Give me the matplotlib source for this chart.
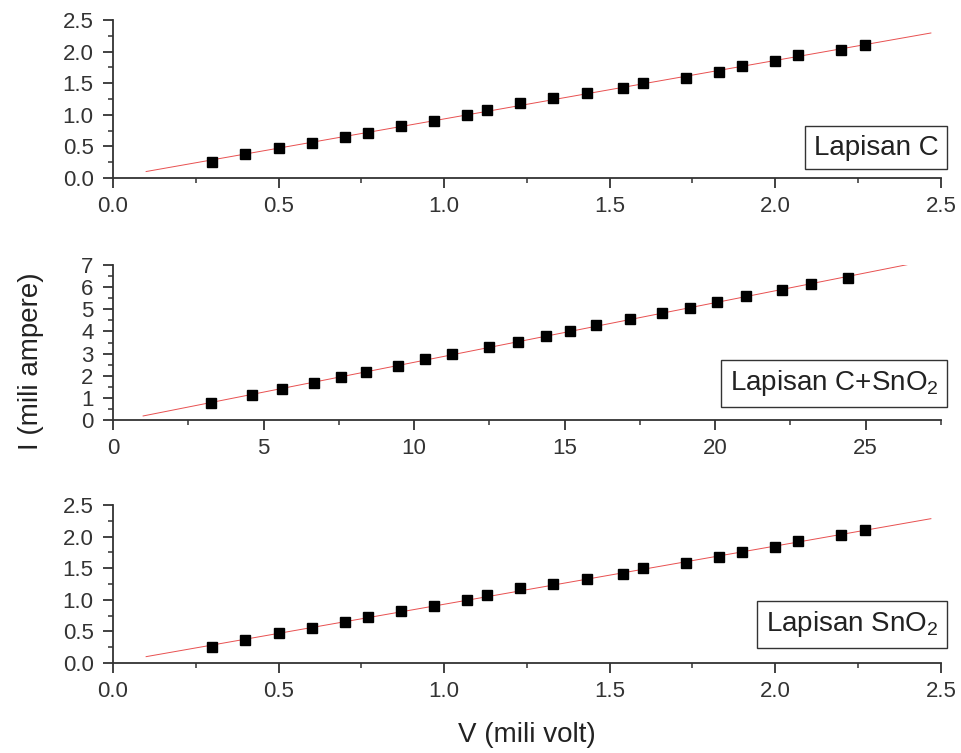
import numpy as np
import matplotlib.pyplot as plt
from matplotlib.ticker import MultipleLocator

plt.rcParams['font.family'] = ['Liberation Sans', 'DejaVu Sans']
plt.rcParams['mathtext.fontset'] = 'custom'
plt.rcParams['mathtext.rm'] = 'Liberation Sans'

# Lapisan C
v_c = [0.30, 0.40, 0.50, 0.60, 0.70, 0.77, 0.87, 0.97, 1.07, 1.13, 1.23, 1.33, 1.43,
       1.54, 1.60, 1.73, 1.83, 1.90, 2.00, 2.07, 2.20, 2.27]
i_c = [0.26, 0.38, 0.48, 0.56, 0.65, 0.72, 0.82, 0.90, 1.00, 1.08, 1.18, 1.26, 1.34,
       1.42, 1.51, 1.59, 1.68, 1.77, 1.85, 1.94, 2.03, 2.11]

# Lapisan C+SnO2
v_csn = [3.25, 4.62, 5.61, 6.68, 7.58, 8.39, 9.46, 10.38, 11.27, 12.48, 13.47, 14.40,
         15.17, 16.06, 17.19, 18.25, 19.16, 20.07, 21.04, 22.21, 23.20, 24.40]
i_csn = [0.76, 1.13, 1.40, 1.66, 1.96, 2.16, 2.46, 2.75, 2.99, 3.29, 3.54, 3.80,
         4.04, 4.30, 4.56, 4.83, 5.08, 5.34, 5.58, 5.85, 6.15, 6.39]

# Lapisan SnO2
v_sn = [0.30, 0.40, 0.50, 0.60, 0.70, 0.77, 0.87, 0.97, 1.07, 1.13, 1.23, 1.33, 1.43,
        1.54, 1.60, 1.73, 1.83, 1.90, 2.00, 2.07, 2.20, 2.27]
i_sn = [0.26, 0.37, 0.47, 0.55, 0.65, 0.73, 0.82, 0.90, 0.99, 1.07, 1.18, 1.25, 1.33,
        1.41, 1.50, 1.59, 1.67, 1.76, 1.84, 1.93, 2.02, 2.10]

panels = [
    (v_c, i_c, "Lapisan C", (0.1, 2.47), (0, 2.5), 2.5, (0.5, 0.25), (0.5, 0.25),
     [0.1176, 0.7636, 0.8614, 0.2098], 0.11),
    (v_csn, i_csn, r"Lapisan C+SnO$\mathregular{_2}$", (1.0, 26.5), (0, 27.5), 7, (5, 2.5), (1, 0.5),
     [0.1176, 0.4422, 0.8614, 0.2059], 0.14),
    (v_sn, i_sn, r"Lapisan SnO$\mathregular{_2}$", (0.1, 2.47), (0, 2.5), 2.5, (0.5, 0.25), (0.5, 0.25),
     [0.1176, 0.1195, 0.8614, 0.2098], 0.15),
]

fig = plt.figure(figsize=(9.61, 7.53), dpi=100)

for v, i, label, fitx, xlim, ytop, xt, yt, rect, by in panels:
    ax = fig.add_axes(rect)
    k, b = np.polyfit(v, i, 1)
    xx = np.array(fitx)
    ax.plot(xx, k * xx + b, color='#e85050', lw=0.7, zorder=2)
    ax.plot(v, i, 's', color='black', ms=7, zorder=3)
    ax.set_xlim(*xlim)
    ax.set_ylim(0, ytop)
    ax.xaxis.set_major_locator(MultipleLocator(xt[0]))
    ax.xaxis.set_minor_locator(MultipleLocator(xt[1]))
    ax.yaxis.set_major_locator(MultipleLocator(yt[0]))
    ax.yaxis.set_minor_locator(MultipleLocator(yt[1]))
    if xlim[1] == 2.5:
        ax.xaxis.set_major_formatter(lambda x, p: f"{x:.1f}")
        ax.yaxis.set_major_formatter(lambda x, p: f"{x:.1f}")
    else:
        ax.xaxis.set_major_formatter(lambda x, p: f"{x:g}" if x <= 25 else "")
    for s in ['top', 'right']:
        ax.spines[s].set_visible(False)
    for s in ['left', 'bottom']:
        ax.spines[s].set_linewidth(1.3)
        ax.spines[s].set_color('#333333')
    ax.tick_params(which='major', direction='out', length=7, width=1.3, colors='#333333',
                   labelsize=16, labelcolor='#333333')
    ax.tick_params(which='minor', direction='out', length=3.5, width=1.1, colors='#333333')
    ax.tick_params(axis='y', which='major', pad=7)
    ax.tick_params(axis='x', which='major', pad=6)
    ax.text(0.997, by, label, transform=ax.transAxes, ha='right', va='bottom',
            fontsize=20, color='#222222',
            bbox=dict(boxstyle='square,pad=0.3', fc='white', ec='#333333', lw=1.0))

fig.text(0.032, 0.52, "I (mili ampere)", rotation=90, ha='center', va='center',
         fontsize=20, color='#222222')
fig.text(0.548, 0.024, "V (mili volt)", ha='center', va='center',
         fontsize=20, color='#222222')

fig.savefig("out.png", dpi=100)
